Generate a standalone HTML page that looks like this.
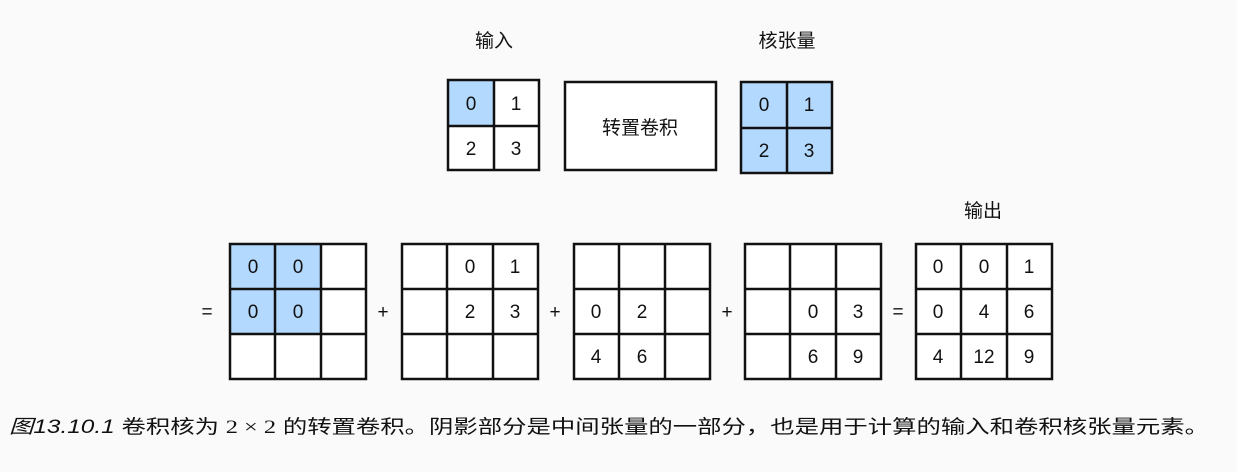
<!DOCTYPE html>
<html><head><meta charset="utf-8"><style>
html,body{margin:0;padding:0;background:#fafafa;}
svg{display:block;}
text{font-family:"Liberation Sans","Noto Sans CJK SC",sans-serif;fill:#111;}
</style></head><body>
<svg width="1237" height="472" viewBox="0 0 1237 472" xmlns="http://www.w3.org/2000/svg">
<rect width="1237" height="472" fill="#fafafa"/>
<g font-size="19" text-anchor="middle">
<text x="494" y="47">输入</text>
<text x="787" y="47">核张量</text>
<text x="983" y="217">输出</text>
</g>
<rect x="448" y="80" width="91" height="90" fill="#fff"/>
<rect x="448" y="80" width="46" height="46" fill="#b3d9ff"/>
<rect x="448" y="80" width="91" height="90" fill="none" stroke="#111" stroke-width="2.5"/>
<line x1="494" y1="80" x2="494" y2="170" stroke="#111" stroke-width="2.5"/>
<line x1="448" y1="126" x2="539" y2="126" stroke="#111" stroke-width="2.5"/>
<g font-size="19" text-anchor="middle">
<text x="471" y="110">0</text><text x="516" y="110">1</text>
<text x="471" y="155">2</text><text x="516" y="155">3</text>
</g>
<rect x="565" y="82" width="151" height="88" fill="#fff" stroke="#111" stroke-width="2.5"/>
<text x="640" y="134" font-size="19" text-anchor="middle">转置卷积</text>
<rect x="741" y="82" width="91" height="91" fill="#b3d9ff" stroke="#111" stroke-width="2.5"/>
<line x1="787" y1="82" x2="787" y2="173" stroke="#111" stroke-width="2.5"/>
<line x1="741" y1="128" x2="832" y2="128" stroke="#111" stroke-width="2.5"/>
<g font-size="19" text-anchor="middle">
<text x="764" y="111">0</text><text x="809" y="111">1</text>
<text x="764" y="157">2</text><text x="809" y="157">3</text>
</g>
<g fill="#fff" stroke="none">
<rect x="230" y="244" width="136" height="135"/>
<rect x="402" y="244" width="136" height="135"/>
<rect x="574" y="244" width="136" height="135"/>
<rect x="745" y="244" width="136" height="135"/>
<rect x="916" y="244" width="136" height="135"/>
</g>
<rect x="230" y="244" width="91" height="90" fill="#b3d9ff"/>
<g fill="none" stroke="#111" stroke-width="2.5">
<rect x="230" y="244" width="136" height="135"/>
<line x1="275" y1="244" x2="275" y2="379"/><line x1="321" y1="244" x2="321" y2="379"/>
<line x1="230" y1="289" x2="366" y2="289"/><line x1="230" y1="334" x2="366" y2="334"/>
<rect x="402" y="244" width="136" height="135"/>
<line x1="447" y1="244" x2="447" y2="379"/><line x1="493" y1="244" x2="493" y2="379"/>
<line x1="402" y1="289" x2="538" y2="289"/><line x1="402" y1="334" x2="538" y2="334"/>
<rect x="574" y="244" width="136" height="135"/>
<line x1="619" y1="244" x2="619" y2="379"/><line x1="665" y1="244" x2="665" y2="379"/>
<line x1="574" y1="289" x2="710" y2="289"/><line x1="574" y1="334" x2="710" y2="334"/>
<rect x="745" y="244" width="136" height="135"/>
<line x1="790" y1="244" x2="790" y2="379"/><line x1="836" y1="244" x2="836" y2="379"/>
<line x1="745" y1="289" x2="881" y2="289"/><line x1="745" y1="334" x2="881" y2="334"/>
<rect x="916" y="244" width="136" height="135"/>
<line x1="961" y1="244" x2="961" y2="379"/><line x1="1007" y1="244" x2="1007" y2="379"/>
<line x1="916" y1="289" x2="1052" y2="289"/><line x1="916" y1="334" x2="1052" y2="334"/>
</g>
<g font-size="19" text-anchor="middle">
<text x="253" y="273">0</text><text x="298" y="273">0</text>
<text x="253" y="318">0</text><text x="298" y="318">0</text>
<text x="470" y="273">0</text><text x="515" y="273">1</text>
<text x="470" y="318">2</text><text x="515" y="318">3</text>
<text x="596" y="318">0</text><text x="642" y="318">2</text>
<text x="596" y="363">4</text><text x="642" y="363">6</text>
<text x="813" y="318">0</text><text x="858" y="318">3</text>
<text x="813" y="363">6</text><text x="858" y="363">9</text>
<text x="938" y="273">0</text><text x="984" y="273">0</text><text x="1029" y="273">1</text>
<text x="938" y="318">0</text><text x="984" y="318">4</text><text x="1029" y="318">6</text>
<text x="938" y="363">4</text><text x="984" y="363">12</text><text x="1029" y="363">9</text>
<text x="207" y="318">=</text>
<text x="383" y="318">+</text>
<text x="555" y="318">+</text>
<text x="727" y="318">+</text>
<text x="898" y="318">=</text>
</g>
<text x="9" y="433" font-size="19" textLength="1200" lengthAdjust="spacingAndGlyphs"><tspan font-style="italic">图13.10.1</tspan> 卷积核为 <tspan font-family="Liberation Serif, serif">2 × 2</tspan> 的转置卷积。阴影部分是中间张量的一部分，也是用于计算的输入和卷积核张量元素。</text>
</svg>
</body></html>
